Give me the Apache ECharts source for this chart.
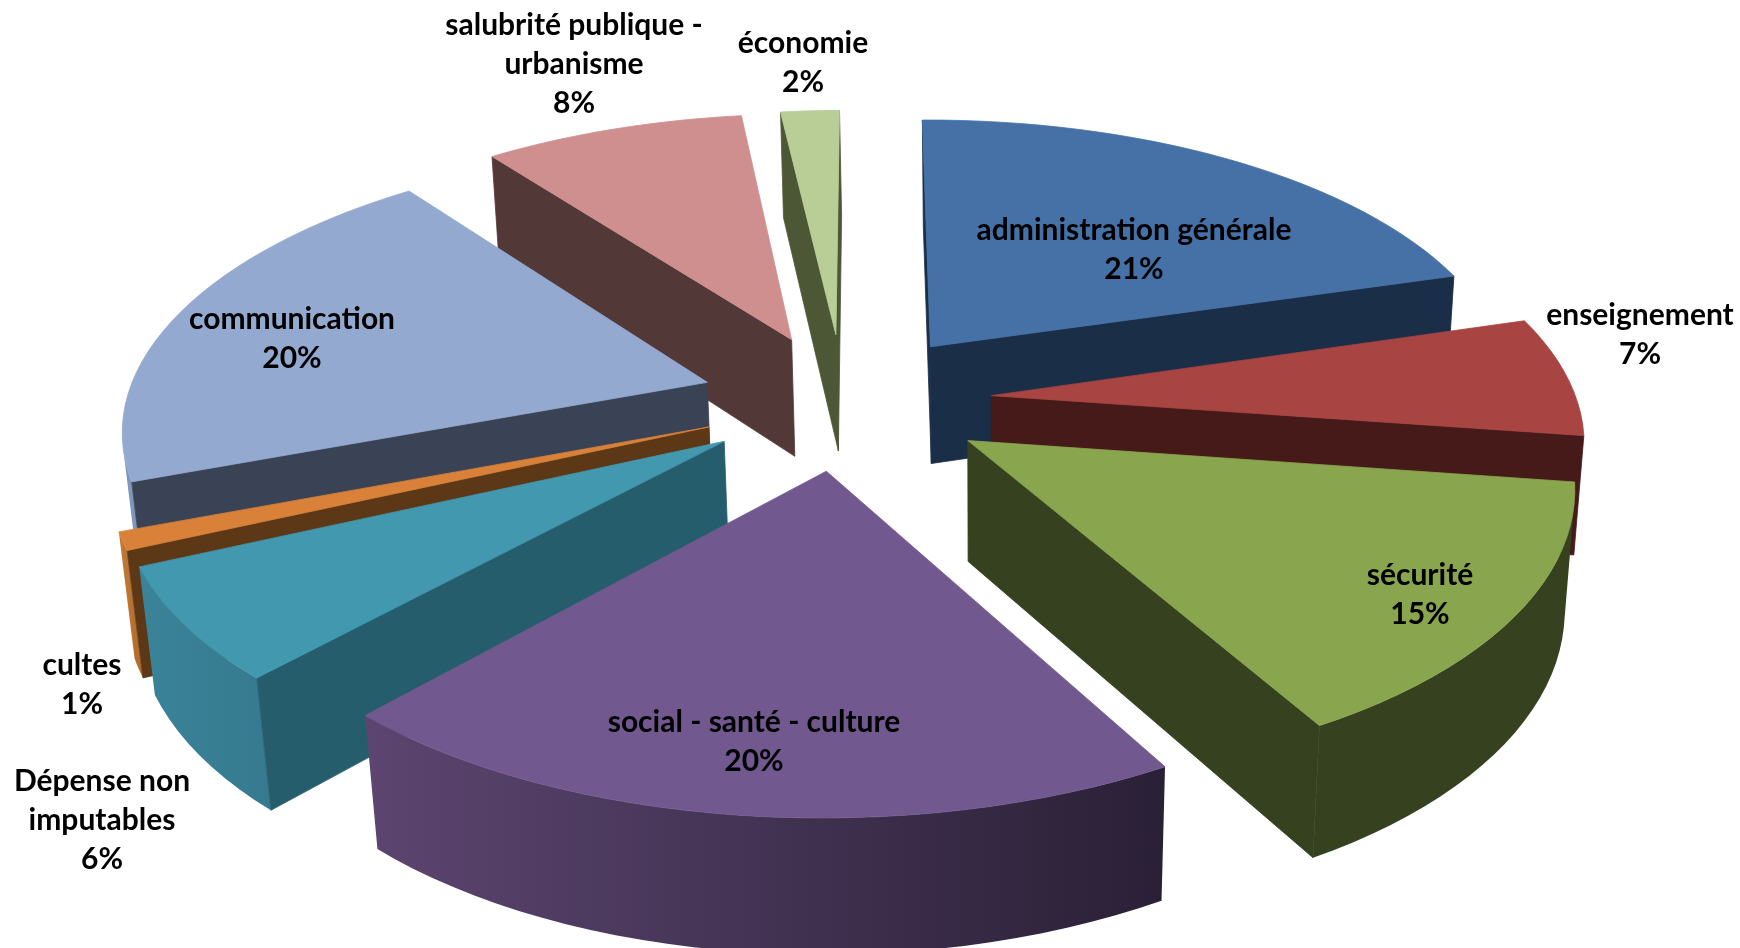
<!DOCTYPE html>
<html><head><meta charset="utf-8">
<style>html,body{margin:0;padding:0;background:#fff}#c{width:1740px;height:948px}</style>
<script src="https://cdn.jsdelivr.net/npm/echarts@6/dist/echarts.min.js"></script>
</head><body><div id="c"></div>
<script>
const categories = ['administration générale','enseignement','sécurité','social - santé - culture','Dépense non\nimputables','cultes','communication','salubrité publique -\nurbanisme','économie'];
const values = [20.7,7,14.7,19.94,6.36,1,20,8.4,1.9];
const topColors = ['#4571A7','#A84442','#89A54E','#71588F','#4198AF','#D98139','#93A9CF','#CF8F8F','#B9CD96'];
const wallColors = ['#1A2E48','#461A18','#36411F','#2D2238','#265D6C','#5D3817','#3A4355','#533838','#4C5736'];
const arcLeftColors = ['#1A2E48','#461A18','#36411F','#5C4570','#3A8399','#C47A37','#8196BB','#533838','#4C5736'];
const arcRightColors = ['#1A2E48','#461A18','#36411F','#2A2036','#367A8F','#B06A2E','#8196BB','#533838','#4C5736'];
const labelPos = [[1134,250],[1640,335],[1420,595],[754,742],[102,820],[82,685],[292,339],[574,64],[803,63]];
const drawOrder = [8,7,0,6,1,5,4,2,3];
const startAngleDeg = 1.1;
const explode = 0.25, apexShiftX = -0.02;
const camA = [597.09,101.77,858.14,16.86];
const camB = [-4.86,-216.15,400.4,128.19];
const camW = [0.01676,0.14405,0.01706];

function project(X,Y,Z){
  const w = 1+camW[0]*X+camW[1]*Y+camW[2]*Z;
  return [(camA[0]*X+camA[1]*Y+camA[2]+camA[3]*Z)/w,(camB[0]*X+camB[1]*Y+camB[2]+camB[3]*Z)/w];
}
function area(pts){let a=0;for(let i=0;i<pts.length;i++){const p=pts[i],q=pts[(i+1)%pts.length];a+=p[0]*q[1]-q[0]*p[1];}return a/2;}
const total = values.reduce((a,b)=>a+b,0);
const starts = [];values.reduce((acc,v,i)=>{starts[i]=acc;return acc+v;},0);

function renderSlice(params,api){
  const i = api.value(0), order = params.dataIndex*10;
  const off = startAngleDeg*Math.PI/180;
  const a0 = off+starts[i]/total*2*Math.PI, a1 = off+(starts[i]+values[i])/total*2*Math.PI, m=(a0+a1)/2;
  const ox = explode*Math.sin(m), oy = explode*Math.cos(m);
  const n = Math.max(4,Math.ceil((a1-a0)/0.04));
  const rim=[];for(let j=0;j<=n;j++){const t=a0+(a1-a0)*j/n;rim.push([ox+Math.sin(t),oy+Math.cos(t)]);}
  const children=[];
  const quad=(A,B)=>[project(A[0],A[1],0),project(B[0],B[1],0),project(B[0],B[1],1),project(A[0],A[1],1)];
  const push=(pts,fill,z)=>children.push({type:'polygon',z2:z,shape:{points:pts},style:{fill:fill,stroke:typeof fill==='string'?fill:null,lineWidth:0.8},silent:true});
  // visible runs of the outer wall become one polygon with a left-to-right gradient
  const flush=(run)=>{ if(!run.length) return;
    const top=run.map(r=>project(r[0],r[1],0)), bot=run.map(r=>project(r[0],r[1],1)).reverse();
    push(top.concat(bot),{type:'linear',x:0,y:0,x2:1,y2:0,colorStops:[{offset:0,color:arcLeftColors[i]},{offset:1,color:arcRightColors[i]}]},order+1);
  };
  let run=[];
  for(let j=0;j<n;j++){
    if(area(quad(rim[j],rim[j+1]))<0){ if(!run.length) run.push(rim[j]); run.push(rim[j+1]); }
    else { flush(run); run=[]; }
  }
  flush(run);
  const apex=[ox+apexShiftX,oy];
  [quad(apex,rim[0]),quad(rim[n],apex)].forEach(q=>{if(area(q)<0)push(q,wallColors[i],order+2);});
  push([project(apex[0],apex[1],0)].concat(rim.map(r=>project(r[0],r[1],0))),topColors[i],order+3);
  children.push({type:'text',z2:1000,silent:true,style:{text:categories[i]+'\n'+Math.round(values[i])+'%',x:labelPos[i][0],y:labelPos[i][1],
    align:'center',verticalAlign:'middle',font:'bold 30px Lato',lineHeight:39,fill:'#000'}});
  return {type:'group',children};
}
const chart = echarts.init(document.getElementById('c'),null,{renderer:'canvas'});
chart.setOption({
  backgroundColor:'#fff',animation:false,
  series:[{type:'custom',coordinateSystem:'none',renderItem:renderSlice,clip:false,
    data:drawOrder.map(i=>[i,values[i]]),encode:{value:1}}]
});
</script></body></html>
